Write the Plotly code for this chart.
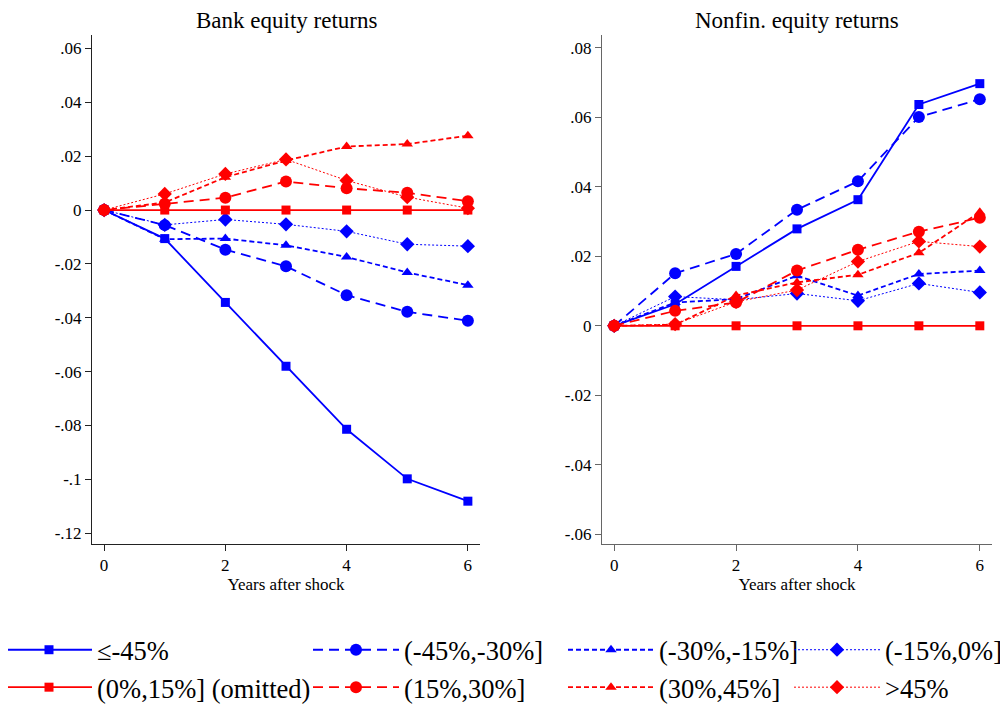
import plotly.graph_objects as go

years = [0, 1, 2, 3, 4, 5, 6]

# Bank equity returns
bank_le45 = [0, -0.0106, -0.0343, -0.0580, -0.0814, -0.0998, -0.1081]
bank_m45_30 = [0, -0.0056, -0.0147, -0.0209, -0.0316, -0.0378, -0.0411]
bank_m30_15 = [0, -0.0108, -0.0106, -0.0131, -0.0174, -0.0232, -0.0279]
bank_m15_0 = [0, -0.0055, -0.0035, -0.0053, -0.0079, -0.0127, -0.0134]
bank_p0_15 = [0, 0, 0, 0, 0, 0, 0]
bank_p15_30 = [0, 0.0023, 0.0046, 0.0106, 0.0081, 0.0064, 0.0033]
bank_p30_45 = [0, 0.0028, 0.0122, 0.0184, 0.0236, 0.0245, 0.0276]
bank_gt45 = [0, 0.0060, 0.0134, 0.0188, 0.0110, 0.0048, 0.0007]

# Nonfinancial equity returns
nf_le45 = [0, 0.0062, 0.0171, 0.0279, 0.0363, 0.0637, 0.0697]
nf_m45_30 = [0, 0.0151, 0.0207, 0.0334, 0.0416, 0.0601, 0.0652]
nf_m30_15 = [0, 0.0067, 0.0077, 0.0144, 0.0087, 0.0149, 0.0159]
nf_m15_0 = [0, 0.0084, 0.0075, 0.0093, 0.0072, 0.0122, 0.0096]
nf_p0_15 = [0, 0, 0, 0, 0, 0, 0]
nf_p15_30 = [0, 0.0043, 0.0067, 0.0159, 0.0219, 0.0271, 0.0311]
nf_p30_45 = [0, 0.0003, 0.0087, 0.0125, 0.0147, 0.0210, 0.0327]
nf_gt45 = [0, 0.0005, 0.0069, 0.0103, 0.0185, 0.0243, 0.0228]

bank_tickvals = [0.06, 0.04, 0.02, 0, -0.02, -0.04, -0.06, -0.08, -0.1, -0.12]
bank_ticktext = [".06", ".04", ".02", "0", "-.02", "-.04", "-.06", "-.08", "-.1", "-.12"]
nf_tickvals = [0.08, 0.06, 0.04, 0.02, 0, -0.02, -0.04, -0.06]
nf_ticktext = [".08", ".06", ".04", ".02", "0", "-.02", "-.04", "-.06"]
x_tickvals = [0, 2, 4, 6]

BLUE = "#0000FF"
RED = "#FF0000"
SERIF = "Liberation Serif, Times New Roman, Times, serif"

styles = [
    dict(name="≤-45%", color=BLUE, dash="solid", symbol="square", size=9, width=1.8, legend="legend"),
    dict(name="(-45%,-30%]", color=BLUE, dash="10px,6px", symbol="circle", size=12, width=1.8, legend="legend2"),
    dict(name="(-30%,-15%]", color=BLUE, dash="5px,3px", symbol="triangle-up", size=10, width=1.8, legend="legend3"),
    dict(name="(-15%,0%]", color=BLUE, dash="2px,2px", symbol="diamond", size=11, width=1.0, legend="legend4"),
    dict(name="(0%,15%] (omitted)", color=RED, dash="solid", symbol="square", size=9, width=1.8, legend="legend"),
    dict(name="(15%,30%]", color=RED, dash="10px,6px", symbol="circle", size=12, width=1.8, legend="legend2"),
    dict(name="(30%,45%]", color=RED, dash="5px,3px", symbol="triangle-up", size=10, width=1.8, legend="legend3"),
    dict(name=">45%", color=RED, dash="2px,2px", symbol="diamond", size=11, width=1.0, legend="legend4"),
]
bank_series = [bank_le45, bank_m45_30, bank_m30_15, bank_m15_0,
               bank_p0_15, bank_p15_30, bank_p30_45, bank_gt45]
nf_series = [nf_le45, nf_m45_30, nf_m30_15, nf_m15_0,
             nf_p0_15, nf_p15_30, nf_p30_45, nf_gt45]

fig = go.Figure()

for i, st in enumerate(styles):
    for col, data in ((1, bank_series[i]), (2, nf_series[i])):
        fig.add_trace(go.Scatter(
            x=years, y=data, mode="lines+markers",
            name=st["name"], legendgroup=st["name"],
            showlegend=(col == 1), legend=st["legend"],
            line=dict(color=st["color"], dash=st["dash"], width=st["width"]),
            marker=dict(color=st["color"], symbol=st["symbol"], size=st["size"]),
            xaxis="x" if col == 1 else "x2",
            yaxis="y" if col == 1 else "y2",
        ))

# page has an 8px body margin; figure is sized to fit inside the window
OFF = 8
W, H = 1000, 696
def px(x):
    return (x - OFF) / W
def py(y):
    return 1 - (y - OFF) / H

axis_common = dict(showgrid=False, zeroline=False, showline=True, ticks="outside",
                   ticklen=6, tickwidth=1, tickfont=dict(family=SERIF, size=17, color="black"))

fig.update_layout(
    width=W, height=H,
    margin=dict(l=0, r=0, t=0, b=0, autoexpand=False),
    paper_bgcolor="white", plot_bgcolor="white",
    font=dict(family=SERIF, color="black"),
    xaxis=dict(domain=[px(92), px(480)], range=[-0.2, 6.2], tickvals=x_tickvals,
               linecolor="#222", tickcolor="#222", anchor="y",
               title=dict(text="Years after shock", font=dict(family=SERIF, size=17), standoff=2),
               **axis_common),
    yaxis=dict(domain=[py(544), py(35)], range=[-0.124, 0.065], tickvals=bank_tickvals,
               ticktext=bank_ticktext, linecolor="#222", tickcolor="#222", anchor="x",
               **axis_common),
    xaxis2=dict(domain=[px(602), px(992)], range=[-0.2, 6.2], tickvals=x_tickvals,
                linecolor="#666", tickcolor="#666", anchor="y2",
                title=dict(text="Years after shock", font=dict(family=SERIF, size=17), standoff=2),
                **axis_common),
    yaxis2=dict(domain=[py(544), py(35)], range=[-0.0628, 0.0837], tickvals=nf_tickvals,
                ticktext=nf_ticktext, linecolor="#666", tickcolor="#666", anchor="x2",
                **axis_common),
    annotations=[
        dict(text="Bank equity returns", x=px(286), y=py(21), xref="paper", yref="paper",
             showarrow=False, font=dict(family=SERIF, size=23), xanchor="center", yanchor="middle"),
        dict(text="Nonfin. equity returns", x=px(797), y=py(21), xref="paper", yref="paper",
             showarrow=False, font=dict(family=SERIF, size=23), xanchor="center", yanchor="middle"),
    ],
)

legend_common = dict(orientation="v", xanchor="left", yanchor="top", y=py(626),
                     font=dict(family=SERIF, size=26.5), itemwidth=86,
                     bgcolor="rgba(0,0,0,0)", tracegroupgap=0)
fig.update_layout(
    legend=dict(x=px(1), **legend_common),
    legend2=dict(x=px(308), **legend_common),
    legend3=dict(x=px(563), **legend_common),
    legend4=dict(x=px(789), **legend_common),
)

fig.write_html("out.html")
